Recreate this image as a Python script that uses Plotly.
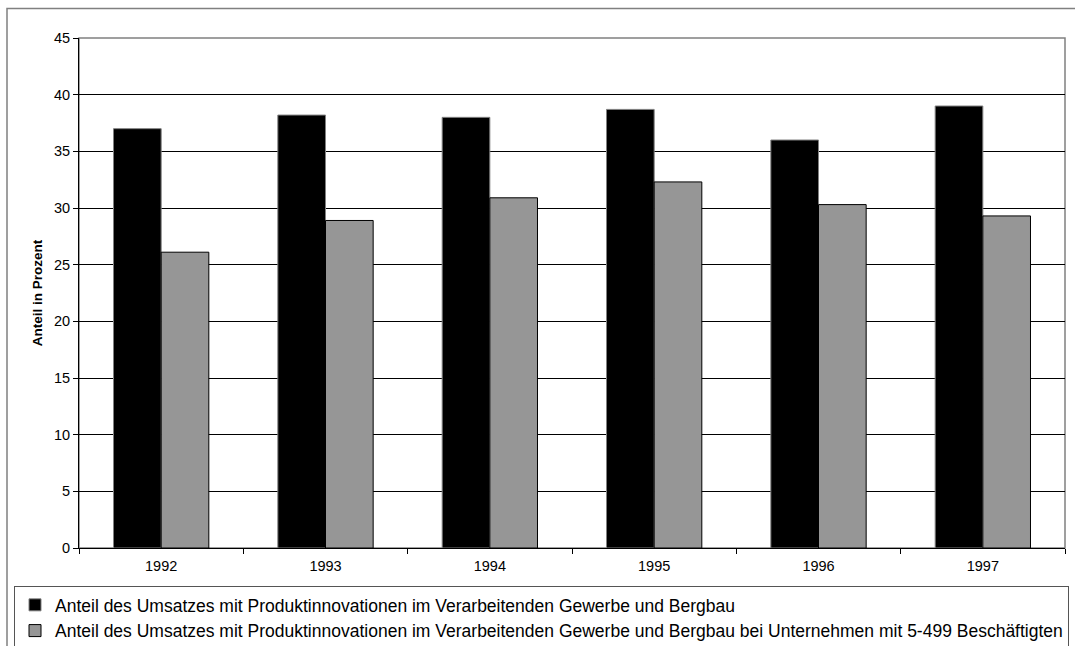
import plotly.graph_objects as go

years = ["1992", "1993", "1994", "1995", "1996", "1997"]
gesamt = [37.0, 38.2, 38.0, 38.7, 36.0, 39.0]
kmu = [26.1, 28.9, 30.9, 32.3, 30.3, 29.3]
name_gesamt = "Anteil des Umsatzes mit Produktinnovationen im Verarbeitenden Gewerbe und Bergbau"
name_kmu = "Anteil des Umsatzes mit Produktinnovationen im Verarbeitenden Gewerbe und Bergbau bei Unternehmen mit 5-499 Beschäftigten"
y_ticks = [0, 5, 10, 15, 20, 25, 30, 35, 40, 45]

FONT = "Arial, Liberation Sans, sans-serif"
W, H = 1075, 646
L, R, T, B = 79, 1065, 37.5, 548
pw, ph = R - L, B - T

def px(x):
    return (x - L) / pw

def py(y):
    return (B - y) / ph

fig = go.Figure()
fig.add_trace(go.Bar(x=years, y=gesamt, name=name_gesamt, legendgroup="a",
                     marker=dict(color="#000000", line=dict(color="#808080", width=1))))
fig.add_trace(go.Bar(x=years, y=kmu, name=name_kmu, legendgroup="b",
                     marker=dict(color="#969696", line=dict(color="#000000", width=1))))

fig.update_layout(
    width=W, height=H,
    margin=dict(l=L, r=W - R, t=T, b=H - B, pad=0, autoexpand=False),
    paper_bgcolor="white", plot_bgcolor="white",
    font=dict(family=FONT, color="black", size=14),
    barmode="group", bargap=0.42, bargroupgap=0,
    showlegend=True,
    legend=dict(x=px(14), xanchor="left", y=py(586), yanchor="top",
                bordercolor="#555555", borderwidth=1, bgcolor="white",
                font=dict(size=17.5, family=FONT), traceorder="grouped",
                tracegroupgap=0, itemwidth=30),
    xaxis=dict(type="category", showgrid=False, showline=True, linecolor="black",
               linewidth=1, ticks="outside", ticklen=5, tickcolor="black",
               tickson="boundaries", tickfont=dict(size=14.5), fixedrange=True,
               automargin=False, ticklabelstandoff=5),
    yaxis=dict(range=[0, 45], tickvals=y_ticks, showgrid=True, gridcolor="black",
               gridwidth=1, showline=True, linecolor="black", linewidth=1,
               ticks="outside", ticklen=5, tickcolor="black", zeroline=False,
               tickfont=dict(size=14.5), automargin=False, fixedrange=True,
               title=dict(text="<b>Anteil in Prozent</b>", font=dict(size=13.5), standoff=8)),
    shapes=[
        dict(type="rect", xref="paper", yref="paper", x0=0, x1=1, y0=0, y1=1,
             line=dict(color="#808080", width=1.5), layer="below"),
        dict(type="rect", xref="paper", yref="paper", x0=px(7), x1=px(1090),
             y0=py(670), y1=py(8), line=dict(color="#808080", width=1.5), layer="below"),
    ],
)

fig.write_html("out.html", config={"displayModeBar": False},
               post_script="document.body.style.margin='0px';document.body.style.overflow='hidden';")
